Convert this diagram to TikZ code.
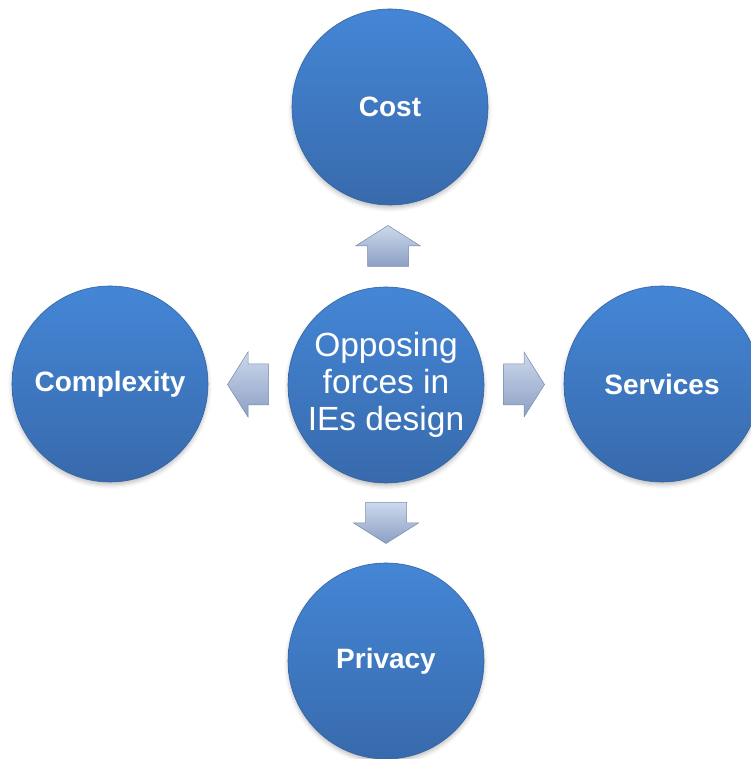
\documentclass[tikz,border=0pt]{standalone}
\usepackage{fontspec}
\setmainfont{Liberation Sans}
\usetikzlibrary{calc,shadows.blur}
\definecolor{ballTop}{RGB}{68,134,214}
\definecolor{ballBot}{RGB}{56,106,172}
\definecolor{ballEdge}{RGB}{52,98,160}
\definecolor{arrTop}{RGB}{204,216,236}
\definecolor{arrBot}{RGB}{140,160,196}
\definecolor{arrEdge}{RGB}{120,138,170}
\tikzset{
  ball/.style={circle, minimum size=196pt, inner sep=0pt,
    top color=ballTop, bottom color=ballBot, draw=ballEdge, line width=0.6pt,
    blur shadow={shadow xshift=0pt, shadow yshift=-3pt, shadow blur radius=4pt, shadow opacity=25},
    text=white, font=\fontsize{28}{34}\selectfont\bfseries},
  hubtext/.style={font=\fontsize{33.5}{37}\selectfont, align=center},
  blockarrow/.pic={
    \shade[top color=arrTop, bottom color=arrBot, draw=arrEdge, line width=0.5pt, line join=miter]
      (-20.5,-20.5) -- (0,-20.5) -- (0,-32.5) -- (20.5,0) -- (0,32.5) -- (0,20.5) -- (-20.5,20.5) -- cycle;
  }
}
\begin{document}
\begin{tikzpicture}[x=1pt,y=1pt]
\useasboundingbox (0,0) rectangle (750,759);
\node[ball] (cost) at (390,652) {Cost};
\node[ball] (cplx) at (110,375) {Complexity};
\node[ball] (serv) at (662,375) {Services};
\node[ball] (priv) at (386,98) {Privacy};
\node[ball, hubtext] (hub) at (386,374) {Opposing\\forces in \\IEs design};
\coordinate (aup) at ($(hub)!0.5!(cost)$);
\coordinate (alf) at ($(hub)!0.5!(cplx)$);
\coordinate (art) at ($(hub)!0.5!(serv)$);
\coordinate (adn) at ($(hub)!0.5!(priv)$);
\pic[rotate=90] at (aup) {blockarrow};
\pic[rotate=180] at (alf) {blockarrow};
\pic at (art) {blockarrow};
\pic[rotate=-90] at (adn) {blockarrow};
\end{tikzpicture}
\end{document}
